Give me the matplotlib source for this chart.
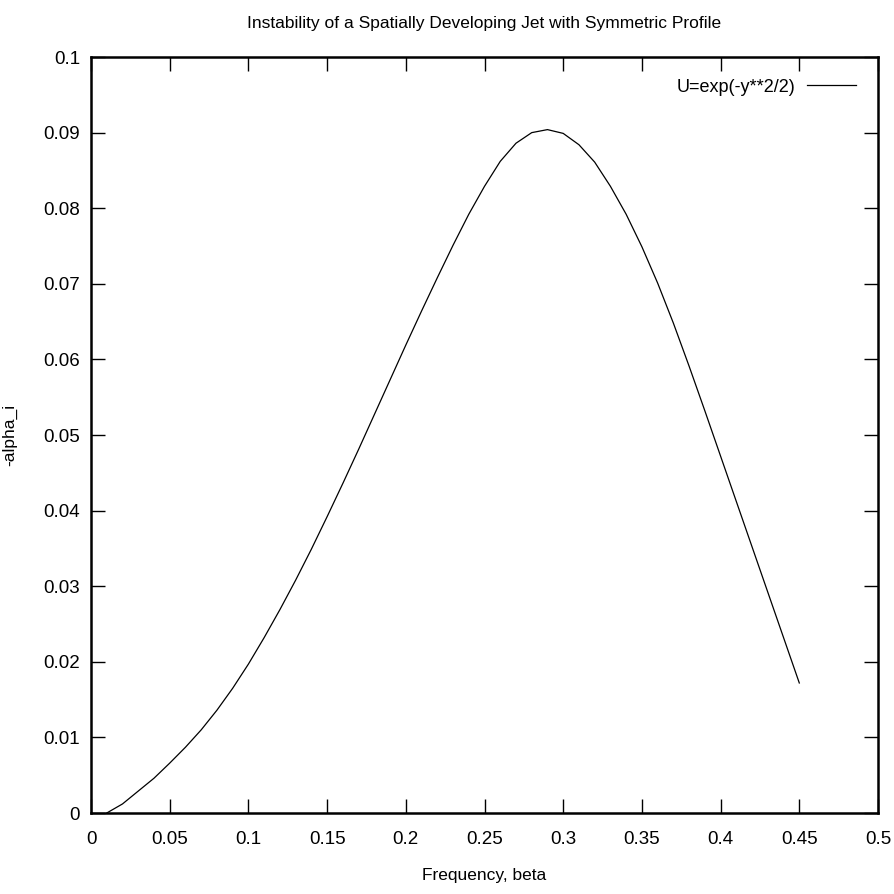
import numpy as np
import matplotlib
matplotlib.use("Agg")
import matplotlib.pyplot as plt

plt.rcParams['font.family'] = ['Liberation Sans', 'DejaVu Sans']

# frequency beta and growth rate -alpha_i
beta = [0.01, 0.02, 0.03, 0.04, 0.05, 0.06, 0.07, 0.08, 0.09, 0.10,
        0.11, 0.12, 0.13, 0.14, 0.15, 0.16, 0.17, 0.18, 0.19, 0.20,
        0.21, 0.22, 0.23, 0.24, 0.25, 0.26, 0.27, 0.28, 0.29, 0.30,
        0.31, 0.32, 0.33, 0.34, 0.35, 0.36, 0.37, 0.38, 0.39, 0.40,
        0.41, 0.42, 0.43, 0.44, 0.45]
alpha_i = [0.0, 0.0012, 0.0029, 0.0046, 0.0066, 0.0087, 0.0110, 0.0136, 0.0165, 0.0197,
           0.0232, 0.0269, 0.0308, 0.0349, 0.0392, 0.0436, 0.0481, 0.0527, 0.0573, 0.0619,
           0.0664, 0.0708, 0.0751, 0.0792, 0.0829, 0.0862, 0.0886, 0.0900, 0.0904, 0.0899,
           0.0884, 0.0861, 0.0829, 0.0792, 0.0749, 0.0701, 0.0648, 0.0591, 0.0532, 0.0472,
           0.0412, 0.0352, 0.0292, 0.0232, 0.0172]

fig = plt.figure(figsize=(8.95, 8.94), dpi=100)
ax = fig.add_axes([0.1017, 0.0906, 0.8793, 0.8456])

ax.plot(beta, alpha_i, color='black', lw=0.9, label='U=exp(-y**2/2)')

ax.set_xlim(0, 0.5)
ax.set_ylim(0, 0.1)
ax.set_xticks(np.arange(0, 0.501, 0.05))
ax.set_yticks(np.arange(0, 0.1001, 0.01))
ax.set_xticklabels(['0', '0.05', '0.1', '0.15', '0.2', '0.25', '0.3', '0.35', '0.4', '0.45', '0.5'])
ax.set_yticklabels(['0', '0.01', '0.02', '0.03', '0.04', '0.05', '0.06', '0.07', '0.08', '0.09', '0.1'])
ax.tick_params(direction='in', length=10, width=1, top=True, right=True, labelsize=13.5)
ax.tick_params(axis='x', pad=13)
ax.tick_params(axis='y', pad=8)
for s in ax.spines.values():
    s.set_linewidth(1.8)

ax.set_title('Instability of a Spatially Developing Jet with Symmetric Profile', fontsize=12.5, pad=21)
ax.set_xlabel('Frequency, beta', fontsize=12.5, labelpad=14)
ax.set_ylabel('-alpha_i', fontsize=12.5)
ax.yaxis.set_label_coords(-0.094, 0.5)

ax.legend(loc='upper right', frameon=False, markerfirst=False, fontsize=13,
          handlelength=2.75, handletextpad=0.6, borderaxespad=0.8)

fig.savefig('out.png', dpi=100)
